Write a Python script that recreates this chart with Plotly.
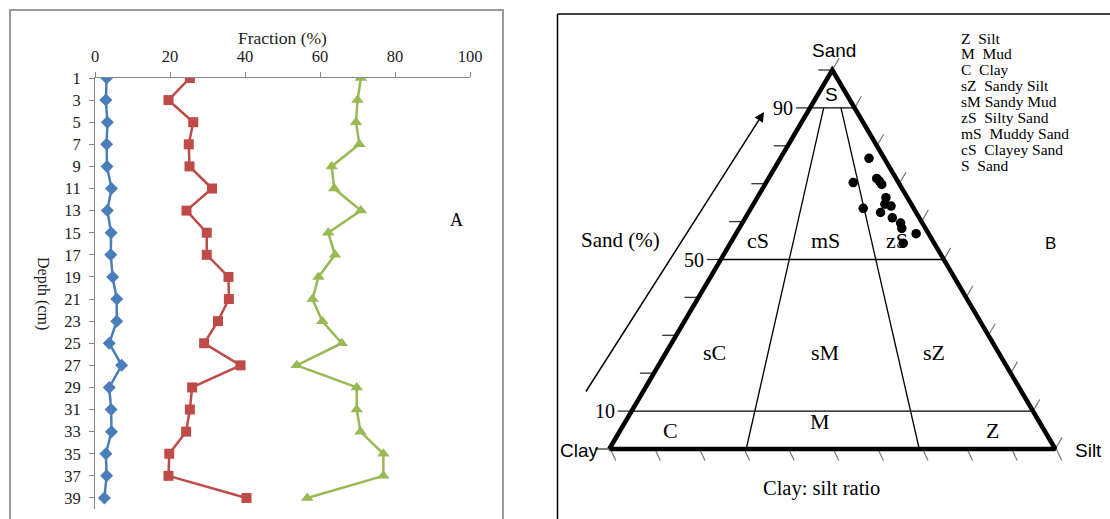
import plotly.graph_objects as go

# ---------------- Panel A: grain-size fractions vs depth ----------------
DEPTH = [1, 3, 5, 7, 9, 11, 13, 15, 17, 19, 21, 23, 25, 27, 29, 31, 33, 35, 37, 39]
CLAY = [3.1, 2.9, 3.3, 3.1, 3.2, 4.4, 3.3, 4.3, 4.2, 4.7,
        5.8, 5.8, 3.8, 7.1, 3.8, 4.3, 4.4, 2.9, 3.1, 2.5]
SILT = [25.3, 19.6, 26.2, 25.0, 25.2, 31.2, 24.4, 29.8, 29.8, 35.6,
        35.7, 32.8, 29.1, 38.8, 25.9, 25.3, 24.3, 19.8, 19.6, 40.4]
SAND = [70.9, 70.0, 69.6, 70.5, 63.1, 63.8, 70.9, 62.2, 64.0, 59.6,
        58.0, 60.6, 65.8, 53.8, 69.8, 69.8, 70.8, 76.9, 76.9, 56.6]
FRACTION_TICKS = [0, 20, 40, 60, 80, 100]

# ---------------- Panel B: Folk ternary classification ----------------
# sample positions: sand %, and silt as % of the mud (silt + clay) part
SAMPLE_SAND = [76.7, 70.3, 71.4, 70.7, 69.8, 66.3, 64.6, 64.1, 62.4, 63.5,
               61.0, 59.6, 58.2, 56.8, 54.3]
SAMPLE_SILT_SHARE = [85.3, 65.8, 84.8, 86.0, 86.7, 85.7, 83.3, 86.7, 78.8, 69.0,
                     84.5, 87.9, 87.3, 93.5, 84.8]
SAND_LIMITS = [10, 50, 90]          # horizontal class boundaries (% sand)
RATIO_LIMITS = [30.7, 69.5]         # clay:silt boundaries (% silt in mud)
SAND_TICK_LABELS = {90: "90", 50: "50", 10: "10"}
CLASS_KEY = ["Z  Silt", "M  Mud", "C  Clay", "sZ  Sandy Silt", "sM Sandy Mud",
             "zS  Silty Sand", "mS  Muddy Sand", "cS  Clayey Sand", "S  Sand"]

W, H = 1110, 519
SERIF = "Liberation Serif, Times New Roman, serif"
SANS = "Liberation Sans, Arial, sans-serif"


def px(x):
    """page x (pixels) -> paper fraction"""
    return x / W


def py(y):
    """page y (pixels, from top) -> paper fraction"""
    return 1 - y / H


# triangle corners in the panel-B axis frame (one unit = one page pixel)
CLAY_X, SILT_X, BASE_Y, APEX_Y = 609.3, 1055.3, 449.0, 70.0


def tern(sand, silt_share):
    """sand and silt_share are fractions 0..1 -> (x, y) in panel-B axes."""
    u = 0.5 * sand + (1 - sand) * silt_share
    return CLAY_X + u * (SILT_X - CLAY_X), BASE_Y - sand * (BASE_Y - APEX_Y)


fig = go.Figure()

series = [
    (CLAY, "Clay", "#4A7EBB", "diamond", 10),
    (SILT, "Silt", "#BE4B48", "square", 10),
    (SAND, "Sand", "#98B954", "triangle-up", 11),
]
for vals, name, col, sym, sz in series:
    fig.add_trace(go.Scatter(
        x=vals, y=DEPTH, mode="lines+markers", name=name,
        line=dict(color=col, width=2.5),
        marker=dict(symbol=sym, size=sz, color=col),
        xaxis="x", yaxis="y", showlegend=False, hoverinfo="skip"))


def seg_trace(segs, color, width):
    xs, ys = [], []
    for (a, b) in segs:
        xs += [a[0], b[0], None]
        ys += [a[1], b[1], None]
    return go.Scatter(x=xs, y=ys, mode="lines", xaxis="x2", yaxis="y2",
                      line=dict(color=color, width=width),
                      showlegend=False, hoverinfo="skip")


# class boundary lines
inner = []
for s in SAND_LIMITS:
    inner.append((tern(s / 100, 0), tern(s / 100, 1)))
for r in RATIO_LIMITS:
    inner.append((tern(0, r / 100), tern(0.9, r / 100)))
fig.add_trace(seg_trace(inner, "#000000", 1.3))

# edge ticks
left_ticks, right_ticks, base_ticks = [], [], []
for k in range(11):
    s = k / 10
    lx, ly = tern(s, 0)
    left_ticks.append(((lx, ly), (lx - 14, ly)))
    rx, ry = tern(s, 1)
    right_ticks.append(((rx, ry), (rx + 6.8, ry - 11.6)))
    bx, by = tern(0, k / 10)
    base_ticks.append(((bx + 1, by), (bx + 6.5, by + 11.5)))
fig.add_trace(seg_trace(left_ticks, "#333333", 1.3))
fig.add_trace(seg_trace(right_ticks + base_ticks, "#777777", 1.2))

# outer triangle
corners = [tern(0, 0), tern(1, 0.5), tern(0, 1), tern(0, 0)]
fig.add_trace(go.Scatter(
    x=[c[0] for c in corners], y=[c[1] for c in corners], mode="lines",
    xaxis="x2", yaxis="y2", line=dict(color="#000000", width=4.5),
    showlegend=False, hoverinfo="skip"))

# samples
pts = [tern(s / 100, m / 100) for s, m in zip(SAMPLE_SAND, SAMPLE_SILT_SHARE)]
fig.add_trace(go.Scatter(
    x=[p[0] for p in pts], y=[p[1] for p in pts], mode="markers",
    xaxis="x2", yaxis="y2", marker=dict(color="#000000", size=9.5),
    showlegend=False, hoverinfo="skip"))

ann = []


def tp(x, y, text, size, family=SERIF, **kw):
    d = dict(x=px(x), y=py(y), xref="paper", yref="paper", text=text, showarrow=False,
             xanchor="center", yanchor="middle",
             font=dict(family=family, size=size, color="#000"))
    d.update(kw)
    ann.append(d)


def t2(x, y, text, size, family=SERIF, **kw):
    d = dict(x=x, y=y, xref="x2", yref="y2", text=text, showarrow=False,
             xanchor="center", yanchor="middle",
             font=dict(family=family, size=size, color="#000"))
    d.update(kw)
    ann.append(d)


# panel A titles
tp(282, 38, "Fraction (%)", 17, font=dict(family=SERIF, size=17.5, color="#222"))
tp(43, 293, "Depth (cm)", 16, textangle=90, font=dict(family=SERIF, size=16, color="#222"))
tp(456, 220, "A", 18)

# panel B labels
t2(834, 50, "Sand", 19, SANS)
t2(579, 450, "Clay", 19, SANS)
t2(1088, 450, "Silt", 19, SANS)
t2(1050, 243, "B", 17, SANS)
t2(831, 94, "S", 19, SANS)
for lab, (x, y) in {"cS": (758, 240), "mS": (825, 240), "zS": (897, 240),
                    "sC": (714, 352), "sM": (825, 352), "sZ": (934, 352),
                    "C": (670, 430), "M": (820, 421), "Z": (992, 430)}.items():
    t2(x, y, lab, 22)
for s, lab in SAND_TICK_LABELS.items():
    lx, ly = tern(s / 100, 0)
    t2(lx - 15, ly, lab, 20, xanchor="right")
t2(620, 240, "Sand (%)", 21)
t2(821, 488, "Clay: silt ratio", 20.5)
for i, line in enumerate(CLASS_KEY):
    t2(959, 38 + 15.9 * i, line, 15.5, xanchor="left")
# direction arrow for the sand axis
ann.append(dict(x=764, y=112, ax=585, ay=393, xref="x2", yref="y2", axref="x2", ayref="y2",
                text="", showarrow=True, arrowhead=2, arrowsize=1.3, arrowwidth=1.5,
                arrowcolor="#000"))

shapes = [
    dict(type="rect", xref="paper", yref="paper", x0=px(10), x1=px(503), y0=py(540), y1=py(10),
         line=dict(color="#9a9a9a", width=2), fillcolor="rgba(0,0,0,0)"),
    dict(type="line", xref="paper", yref="paper", x0=px(557.5), x1=px(1130), y0=py(14), y1=py(14),
         line=dict(color="#000", width=1.5)),
    dict(type="line", xref="paper", yref="paper", x0=px(557.5), x1=px(557.5), y0=py(14), y1=py(540),
         line=dict(color="#000", width=1.5)),
]

fig.update_layout(
    width=W, height=H, autosize=False,
    margin=dict(l=0, r=0, t=0, b=0, pad=0, autoexpand=False),
    paper_bgcolor="white", plot_bgcolor="rgba(0,0,0,0)",
    showlegend=False,
    xaxis=dict(domain=[px(95), px(470)], range=[0, 100], side="top", anchor="y",
               tickvals=FRACTION_TICKS, ticks="outside", ticklen=5, tickcolor="#888",
               showline=True, linecolor="#888", linewidth=1, showgrid=False, zeroline=False,
               tickfont=dict(family=SERIF, size=16.5, color="#222"), ticklabelstandoff=3,
               automargin=False, fixedrange=True),
    yaxis=dict(domain=[py(509), py(78)], range=[40, 1], anchor="x",
               tickvals=DEPTH, ticks="outside", ticklen=5, tickcolor="#888",
               showline=True, linecolor="#888", linewidth=1, showgrid=False, zeroline=False,
               tickfont=dict(family=SERIF, size=16.5, color="#222"), ticklabelstandoff=5,
               automargin=False, fixedrange=True),
    xaxis2=dict(domain=[px(557), 1], range=[557, W], anchor="y2", visible=False,
                automargin=False, fixedrange=True),
    yaxis2=dict(domain=[0, 1], range=[H, 0], anchor="x2", visible=False,
                automargin=False, fixedrange=True),
    annotations=ann, shapes=shapes,
)

fig.write_html("out.html")
